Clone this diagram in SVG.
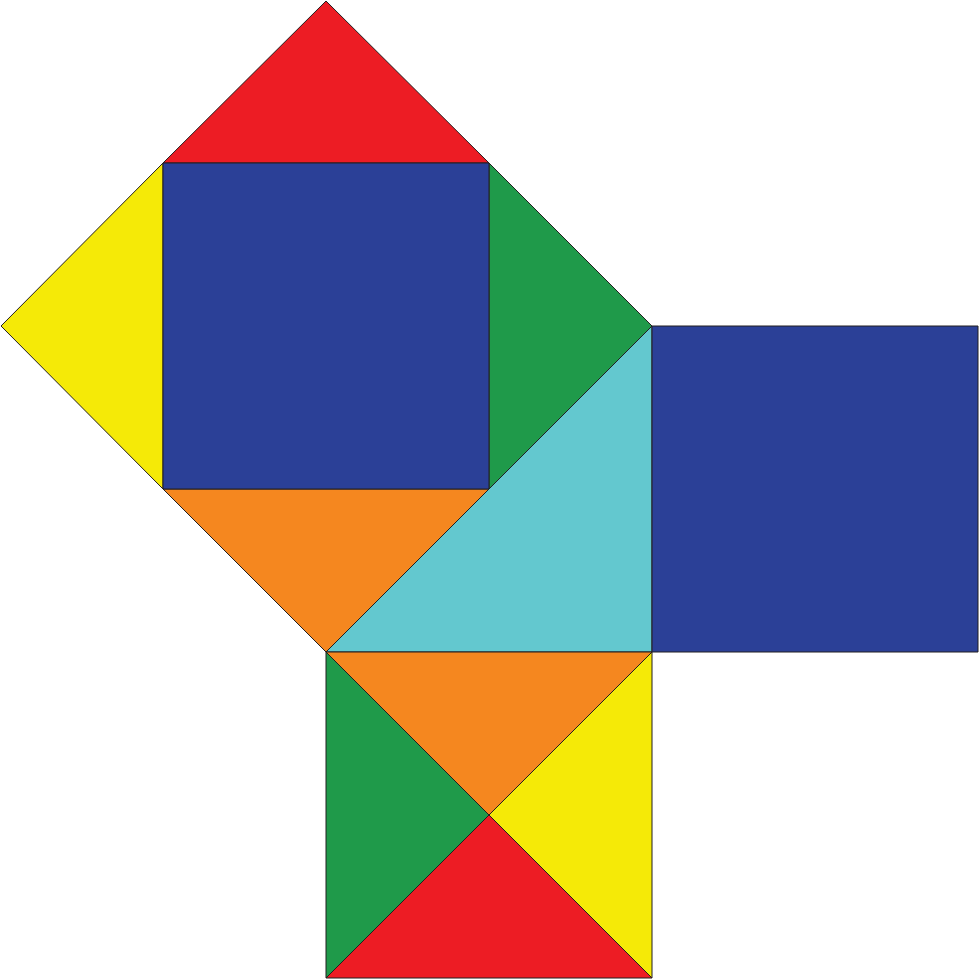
<svg xmlns="http://www.w3.org/2000/svg" width="979" height="980" viewBox="0 0 979 980">
<style>
polygon{stroke:#231F20;stroke-width:1;stroke-linejoin:miter}
.r{fill:#ED1C24}.y{fill:#F5EA07}.g{fill:#1F9A4A}.b{fill:#2B4097}.o{fill:#F5871F}.c{fill:#63C8CF}
</style>
<rect width="979" height="980" fill="#FFFFFF"/>
<g id="hypotenuse-square">
<polygon class="r" points="326,1 163,163 489,163"/>
<polygon class="y" points="1,326 163,163 163,489"/>
<polygon class="g" points="489,163 652,326 489,489"/>
<polygon class="o" points="163,489 489,489 326,652"/>
<polygon class="b" points="163,163 489,163 489,489 163,489"/>
</g>
<g id="triangle">
<polygon class="c" points="326,652 652,326 652,652"/>
</g>
<g id="right-square">
<polygon class="b" points="652,326 978,326 978,652 652,652"/>
</g>
<g id="bottom-square">
<polygon class="o" points="326,652 652,652 489,815"/>
<polygon class="g" points="326,652 489,815 326,978"/>
<polygon class="r" points="326,978 489,815 652,978"/>
<polygon class="y" points="652,652 489,815 652,978"/>
</g>
</svg>
